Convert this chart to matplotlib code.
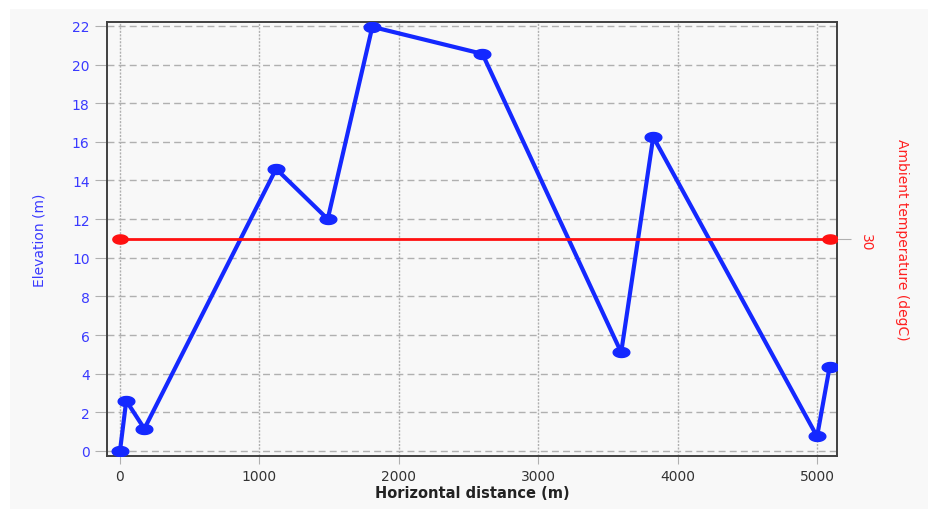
import numpy as np
import matplotlib
matplotlib.use('Agg')
import matplotlib.pyplot as plt
from matplotlib.path import Path
from matplotlib.patches import Rectangle

# data
distance = [0, 45, 175, 1120, 1490, 1810, 2600, 3595, 3825, 5000, 5090]
elevation = [0.0, 2.6, 1.15, 14.6, 12.0, 21.95, 20.55, 5.1, 16.25, 0.75, 4.35]
temp_distance = [0, 5090]
temperature = [30, 30]

# flattened circle marker (the original looks stretched)
t = np.linspace(0, 2 * np.pi, 40)
ellipse = Path(np.column_stack([np.cos(t), 0.6 * np.sin(t)]), closed=True)

bg = '#f8f8f8'
fig = plt.figure(figsize=(9.29, 5.10), dpi=100, facecolor='white')
fig.patches.append(Rectangle((10 / 929, 0), 1, 1 - 10 / 510, transform=fig.transFigure,
                             facecolor=bg, edgecolor='none', zorder=-10))

ax = fig.add_axes([107 / 929, 1 - 457 / 510, 730 / 929, 434 / 510])
ax.set_facecolor(bg)
ax.plot(distance, elevation, color='#1428ff', lw=3, marker=ellipse, ms=12, zorder=3)
ax.set_xlim(-93, 5143)
ax.set_ylim(-0.26, 22.2)
ax.set_xticks([0, 1000, 2000, 3000, 4000, 5000])
ax.set_yticks(range(0, 23, 2))
ax.grid(axis='y', color='#b0b0b0', ls=(0, (5, 3)), lw=1)
ax.grid(axis='x', color='#b0b0b0', ls=(0, (1.5, 1)), lw=1)
ax.tick_params(axis='y', colors='#b0b0b0', labelcolor='#3a3aff', length=9, labelsize=10)
ax.tick_params(axis='x', colors='#b0b0b0', labelcolor='#333333', length=6, labelsize=10)
for s in ax.spines.values():
    s.set_color('#404040')
    s.set_linewidth(1.4)
ax.set_ylabel('Elevation (m)', color='#3a3aff', fontsize=10, labelpad=18)
ax.set_xlabel('Horizontal distance (m)', fontsize=10.5, fontweight='bold', color='#222222', labelpad=1)

ax2 = ax.twinx()
ax2.plot(temp_distance, temperature, color='#ff1010', lw=2, marker=ellipse, ms=11, zorder=3)
ax2.set_ylim(29.5, 30.5)
ax2.set_yticks([30])
ax2.tick_params(axis='y', colors='#b0b0b0', labelcolor='#ff2020', length=10, labelsize=10,
                labelrotation=270, pad=6)
for s in ax2.spines.values():
    s.set_visible(False)
ax2.set_ylabel('Ambient temperature (degC)', color='#ff2020', fontsize=10, rotation=270,
               labelpad=26)

fig.savefig('out.png', dpi=100, facecolor=fig.get_facecolor())
